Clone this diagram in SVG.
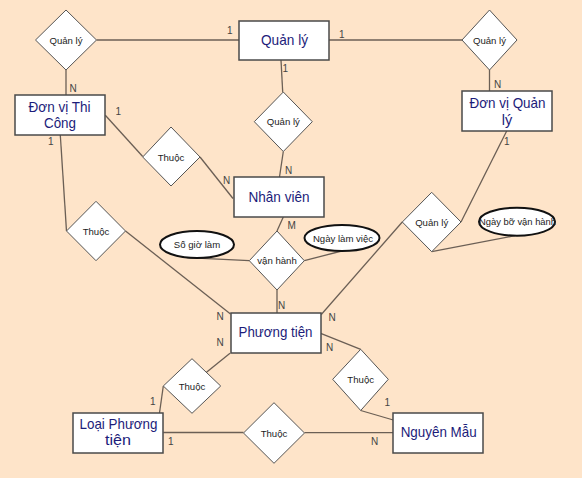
<svg xmlns="http://www.w3.org/2000/svg" width="582" height="478" viewBox="0 0 582 478">
<style>
.ent rect{fill:#fff;stroke:#4a4a4a;stroke-width:1.5}
.ent text{font-family:"Liberation Sans",Arial,sans-serif;font-size:14.5px;fill:#1c1c7a;text-anchor:middle}
.rel polygon{fill:#fff;stroke:#555;stroke-width:1}
.rel text,.att text{font-family:"Liberation Sans",Arial,sans-serif;font-size:9.6px;fill:#222;text-anchor:middle}
.att ellipse{fill:#fff;stroke:#111;stroke-width:2}
#connectors line,#connectors polyline{stroke:#6b5f55;stroke-width:1.3;fill:none}
.lbl{font-family:"Liberation Sans",Arial,sans-serif;font-size:10px;fill:#444}
</style>
<rect x="0" y="0" width="582" height="478" fill="#FEE4C9"/>
<g id="connectors">
<line x1="96.5" y1="40" x2="239" y2="40"/>
<line x1="66" y1="70" x2="66" y2="95"/>
<line x1="329" y1="40" x2="462" y2="40"/>
<line x1="489.5" y1="70" x2="489.5" y2="91"/>
<line x1="281" y1="60" x2="282.7" y2="92"/>
<line x1="283.3" y1="151.5" x2="279.5" y2="177"/>
<line x1="105.3" y1="115.3" x2="142.7" y2="156.5"/>
<line x1="200" y1="157" x2="233" y2="198.5"/>
<line x1="60.3" y1="135" x2="66.5" y2="231"/>
<line x1="125.5" y1="231" x2="230.5" y2="314"/>
<line x1="283.3" y1="217" x2="277" y2="231"/>
<line x1="277" y1="290" x2="277" y2="313"/>
<line x1="186.7" y1="257.7" x2="249.3" y2="260.7"/>
<line x1="304.3" y1="260.7" x2="341.7" y2="251"/>
<line x1="506.7" y1="131" x2="461" y2="222"/>
<line x1="402.3" y1="222" x2="321.3" y2="314.5"/>
<line x1="431.7" y1="251.7" x2="515" y2="235.7"/>
<line x1="230" y1="353.3" x2="206.5" y2="372.3"/>
<line x1="163.3" y1="386" x2="159.5" y2="413"/>
<line x1="163.3" y1="432.5" x2="243.5" y2="432.5"/>
<line x1="304.5" y1="432.7" x2="393" y2="432.7"/>
<line x1="320.7" y1="333.3" x2="360.7" y2="349.3"/>
<line x1="360.7" y1="410.5" x2="393.3" y2="420"/>
<text class="lbl" x="227" y="34">1</text>
<text class="lbl" x="69.5" y="91.5">N</text>
<text class="lbl" x="339" y="38">1</text>
<text class="lbl" x="494" y="88">N</text>
<text class="lbl" x="282.5" y="72">1</text>
<text class="lbl" x="285" y="174">N</text>
<text class="lbl" x="115.5" y="114.5">1</text>
<text class="lbl" x="223" y="184">N</text>
<text class="lbl" x="48" y="145">1</text>
<text class="lbl" x="287.5" y="228.5">M</text>
<text class="lbl" x="278" y="309">N</text>
<text class="lbl" x="216.5" y="320">N</text>
<text class="lbl" x="504" y="145">1</text>
<text class="lbl" x="328.5" y="320.5">N</text>
<text class="lbl" x="216.5" y="346">N</text>
<text class="lbl" x="326" y="351">N</text>
<text class="lbl" x="150" y="405">1</text>
<text class="lbl" x="168" y="445">1</text>
<text class="lbl" x="371" y="445">N</text>
<text class="lbl" x="384.5" y="406">1</text>
</g>
<g id="rel-quanly-left" class="rel"><polygon points="66,10 96.5,40 66,70 35.5,40"/><text x="66" y="43.5">Quản lý</text></g>
<g id="rel-quanly-right" class="rel"><polygon points="489.5,10 517,40 489.5,70 462,40"/><text x="489.5" y="43.5">Quản lý</text></g>
<g id="rel-quanly-mid" class="rel"><polygon points="283.3,92 312.3,121.7 283.3,151.5 254.3,121.7"/><text x="283.3" y="125">Quản lý</text></g>
<g id="rel-thuoc-nv" class="rel"><polygon points="171,127 200,157 171,186 142.7,157"/><text x="171" y="160.5">Thuộc</text></g>
<g id="rel-thuoc-left" class="rel"><polygon points="96,201.3 125.5,231 96,260.7 66.5,231"/><text x="96" y="234.5">Thuộc</text></g>
<g id="rel-vanhanh" class="rel"><polygon points="277,231 304.3,260.7 277,290 249.3,260.7"/><text x="277" y="264">vận hành</text></g>
<g id="rel-quanly-pt" class="rel"><polygon points="431.7,192.3 461,222 431.7,251.7 402.3,222"/><text x="431.7" y="225.5">Quản lý</text></g>
<g id="rel-thuoc-loai" class="rel"><polygon points="192,358.7 220.7,386 192,413.3 163.3,386"/><text x="192" y="389.5">Thuộc</text></g>
<g id="rel-thuoc-bottom" class="rel"><polygon points="274,402.7 304.5,433 274,463.3 243.5,433"/><text x="274" y="436.5">Thuộc</text></g>
<g id="rel-thuoc-nm" class="rel"><polygon points="360.7,349.3 388.3,379.3 360.7,410.5 332.7,379.3"/><text x="360.7" y="382.8">Thuộc</text></g>
<g id="att-sogiolam" class="att"><ellipse cx="197" cy="244.5" rx="37" ry="13.5"/><text x="197" y="248">Số giờ làm</text></g>
<g id="att-ngaylamviec" class="att"><ellipse cx="342" cy="238" rx="37.5" ry="13"/><text x="343" y="241.5">Ngày làm việc</text></g>
<g id="att-ngaybovanhanh" class="att"><ellipse cx="517" cy="221.7" rx="38" ry="14"/><text x="517.5" y="225" textLength="77" lengthAdjust="spacingAndGlyphs">Ngày bỡ vận hành</text></g>
<g id="ent-quanly" class="ent"><rect x="239" y="21" width="90" height="39"/><text x="284.5" y="45" textLength="47" lengthAdjust="spacingAndGlyphs">Quản lý</text></g>
<g id="ent-dvtc" class="ent"><rect x="15" y="95" width="90" height="40"/><text x="59.5" y="112" textLength="62" lengthAdjust="spacingAndGlyphs">Đơn vị Thi</text><text x="60" y="128.3" textLength="32" lengthAdjust="spacingAndGlyphs">Công</text></g>
<g id="ent-dvql" class="ent"><rect x="462" y="91" width="90" height="40"/><text x="507.5" y="108.3" textLength="76" lengthAdjust="spacingAndGlyphs">Đơn vị Quản</text><text x="507" y="124.5">lý</text></g>
<g id="ent-nhanvien" class="ent"><rect x="234" y="177" width="90" height="40"/><text x="279" y="201.7" textLength="61" lengthAdjust="spacingAndGlyphs">Nhân viên</text></g>
<g id="ent-phuongtien" class="ent"><rect x="231" y="313" width="90" height="40"/><text x="275.5" y="336.7" textLength="74" lengthAdjust="spacingAndGlyphs">Phương tiện</text></g>
<g id="ent-loaipt" class="ent"><rect x="73" y="413" width="90" height="40"/><text x="118.5" y="429" textLength="78" lengthAdjust="spacingAndGlyphs">Loại Phương</text><text x="118" y="444.5" textLength="26" lengthAdjust="spacingAndGlyphs">tiện</text></g>
<g id="ent-nguyenmau" class="ent"><rect x="393" y="413" width="90" height="40"/><text x="438.7" y="436.7" textLength="76" lengthAdjust="spacingAndGlyphs">Nguyên Mẫu</text></g>
</svg>
